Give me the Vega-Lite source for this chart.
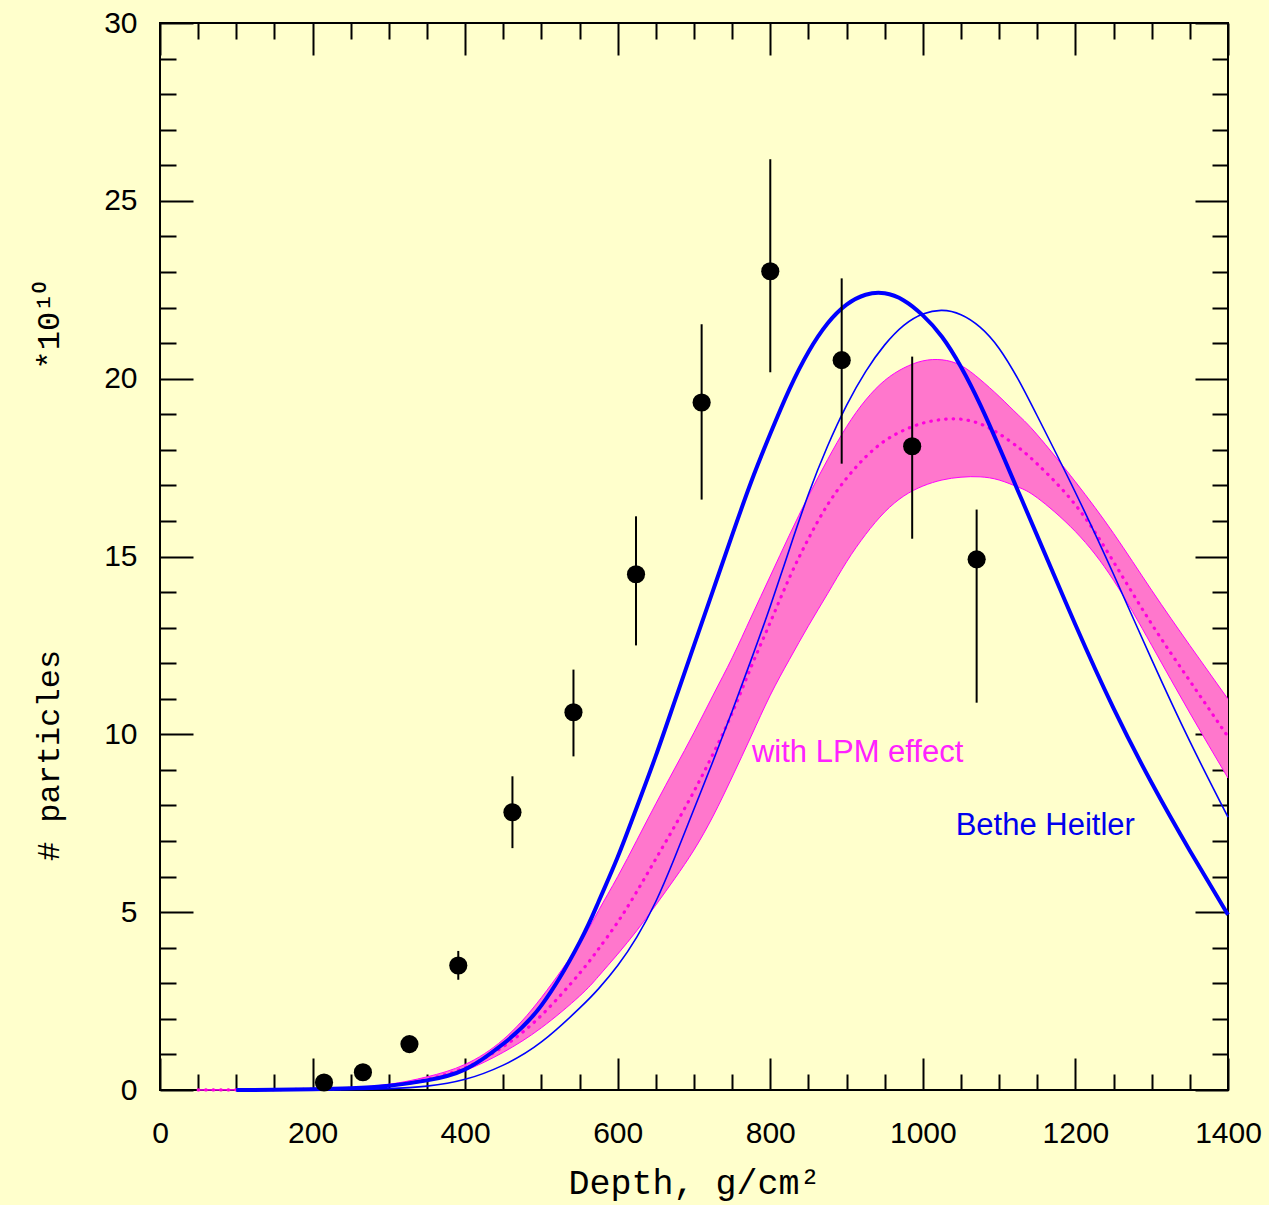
{
  "$schema": "https://vega.github.io/schema/vega-lite/v6.json",
  "width": 1068,
  "height": 1067,
  "autosize": {"type": "none"},
  "padding": {"left": 160, "top": 23, "right": 41, "bottom": 115},
  "background": "#FFFFCC",
  "config": {
    "view": {"stroke": "black", "strokeWidth": 2, "fill": "#FFFFCC"},
    "axis": {
      "grid": false,
      "domain": false,
      "tickColor": "black",
      "tickWidth": 2,
      "labelFont": "Liberation Sans",
      "labelFontSize": 30,
      "labelColor": "black",
      "labelOverlap": false,
      "labelBound": false,
      "labelFlush": false,
      "format": "d",
      "titleFont": "Liberation Mono",
      "titleFontSize": 32,
      "titleFontWeight": "normal",
      "titleColor": "black"
    }
  },
  "datasets": {
    "curves": [
      {"d": 50, "bh": null, "bh2": null, "lo": 0.001, "mid": 0.001, "hi": 0.002},
      {"d": 100, "bh": 0.0, "bh2": 0.0, "lo": 0.003, "mid": 0.004, "hi": 0.005},
      {"d": 150, "bh": 0.005, "bh2": 0.001, "lo": 0.008, "mid": 0.01, "hi": 0.015},
      {"d": 200, "bh": 0.02, "bh2": 0.005, "lo": 0.02, "mid": 0.025, "hi": 0.03},
      {"d": 250, "bh": 0.05, "bh2": 0.015, "lo": 0.04, "mid": 0.05, "hi": 0.07},
      {"d": 300, "bh": 0.12, "bh2": 0.04, "lo": 0.1, "mid": 0.12, "hi": 0.16},
      {"d": 350, "bh": 0.27, "bh2": 0.11, "lo": 0.25, "mid": 0.3, "hi": 0.37},
      {"d": 400, "bh": 0.58, "bh2": 0.3, "lo": 0.55, "mid": 0.63, "hi": 0.72},
      {"d": 450, "bh": 1.3, "bh2": 0.7, "lo": 1.06, "mid": 1.22, "hi": 1.42},
      {"d": 500, "bh": 2.38, "bh2": 1.35, "lo": 1.75, "mid": 2.1, "hi": 2.6},
      {"d": 550, "bh": 4.15, "bh2": 2.3, "lo": 2.64, "mid": 3.28, "hi": 4.12},
      {"d": 575, "bh": 5.3, "bh2": 2.85, "lo": 3.2, "mid": 3.97, "hi": 5.05},
      {"d": 600, "bh": 6.55, "bh2": 3.5, "lo": 3.82, "mid": 4.72, "hi": 6.0},
      {"d": 625, "bh": 7.95, "bh2": 4.3, "lo": 4.48, "mid": 5.58, "hi": 7.02},
      {"d": 650, "bh": 9.4, "bh2": 5.3, "lo": 5.2, "mid": 6.5, "hi": 8.05},
      {"d": 675, "bh": 10.95, "bh2": 6.55, "lo": 5.95, "mid": 7.43, "hi": 9.05},
      {"d": 700, "bh": 12.5, "bh2": 7.9, "lo": 6.75, "mid": 8.4, "hi": 10.05},
      {"d": 725, "bh": 14.05, "bh2": 9.25, "lo": 7.7, "mid": 9.45, "hi": 11.1},
      {"d": 750, "bh": 15.6, "bh2": 10.65, "lo": 8.8, "mid": 10.6, "hi": 12.15},
      {"d": 775, "bh": 17.1, "bh2": 12.1, "lo": 9.95, "mid": 11.9, "hi": 13.3},
      {"d": 800, "bh": 18.45, "bh2": 13.6, "lo": 11.1, "mid": 13.15, "hi": 14.45},
      {"d": 825, "bh": 19.7, "bh2": 15.2, "lo": 12.1, "mid": 14.4, "hi": 15.6},
      {"d": 850, "bh": 20.75, "bh2": 16.75, "lo": 13.05, "mid": 15.5, "hi": 16.7},
      {"d": 875, "bh": 21.55, "bh2": 18.1, "lo": 13.95, "mid": 16.45, "hi": 17.72},
      {"d": 900, "bh": 22.08, "bh2": 19.25, "lo": 14.85, "mid": 17.2, "hi": 18.65},
      {"d": 925, "bh": 22.36, "bh2": 20.2, "lo": 15.62, "mid": 17.8, "hi": 19.4},
      {"d": 950, "bh": 22.4, "bh2": 20.95, "lo": 16.25, "mid": 18.25, "hi": 19.95},
      {"d": 975, "bh": 22.2, "bh2": 21.5, "lo": 16.7, "mid": 18.55, "hi": 20.3},
      {"d": 1000, "bh": 21.78, "bh2": 21.82, "lo": 16.98, "mid": 18.75, "hi": 20.5},
      {"d": 1025, "bh": 21.18, "bh2": 21.92, "lo": 17.15, "mid": 18.85, "hi": 20.53},
      {"d": 1050, "bh": 20.33, "bh2": 21.8, "lo": 17.23, "mid": 18.86, "hi": 20.37},
      {"d": 1075, "bh": 19.28, "bh2": 21.45, "lo": 17.24, "mid": 18.73, "hi": 19.98},
      {"d": 1100, "bh": 18.08, "bh2": 20.85, "lo": 17.15, "mid": 18.45, "hi": 19.5},
      {"d": 1125, "bh": 16.83, "bh2": 19.98, "lo": 16.95, "mid": 18.07, "hi": 18.98},
      {"d": 1150, "bh": 15.58, "bh2": 18.95, "lo": 16.65, "mid": 17.6, "hi": 18.42},
      {"d": 1200, "bh": 13.08, "bh2": 16.8, "lo": 15.7, "mid": 16.45, "hi": 17.1},
      {"d": 1250, "bh": 10.73, "bh2": 14.5, "lo": 14.33, "mid": 14.85, "hi": 15.65},
      {"d": 1300, "bh": 8.63, "bh2": 12.1, "lo": 12.5, "mid": 13.1, "hi": 14.05},
      {"d": 1350, "bh": 6.73, "bh2": 9.8, "lo": 10.6, "mid": 11.5, "hi": 12.5},
      {"d": 1400, "bh": 4.93, "bh2": 7.67, "lo": 8.77, "mid": 9.93, "hi": 10.99}
    ],
    "obs": [
      {"d": 215, "n": 0.21, "lo": null, "hi": null},
      {"d": 266, "n": 0.5, "lo": null, "hi": null},
      {"d": 327, "n": 1.29, "lo": null, "hi": null},
      {"d": 391, "n": 3.5, "lo": 3.1, "hi": 3.91},
      {"d": 462, "n": 7.81, "lo": 6.8, "hi": 8.82},
      {"d": 542, "n": 10.62, "lo": 9.38, "hi": 11.82},
      {"d": 624, "n": 14.5, "lo": 12.5, "hi": 16.13},
      {"d": 710, "n": 19.33, "lo": 16.6, "hi": 21.53},
      {"d": 800, "n": 23.02, "lo": 20.18, "hi": 26.17},
      {"d": 893.6, "n": 20.52, "lo": 17.61, "hi": 22.82},
      {"d": 986, "n": 18.1, "lo": 15.5, "hi": 20.62},
      {"d": 1070.5, "n": 14.92, "lo": 10.89, "hi": 16.32}
    ],
    "labels": [
      {"d": 776, "n": 9.21, "curve": "with LPM effect"},
      {"d": 1043, "n": 7.18, "curve": "Bethe Heitler"}
    ]
  },
  "resolve": {"axis": {"x": "independent", "y": "independent"}},
  "layer": [
    {
      "data": {"name": "curves"},
      "mark": {"type": "area", "fill": "#FF77CC", "opacity": 1, "interpolate": "natural"},
      "encoding": {
        "x": {
          "field": "d", "type": "quantitative",
          "scale": {"domain": [0, 1400], "nice": false, "zero": false},
          "axis": {
            "orient": "bottom", "values": [0, 200, 400, 600, 800, 1000, 1200, 1400],
            "ticks": false, "labelPadding": 28,
            "title": "Depth, g/cm²", "titleFontSize": 35, "titleY": 103, "titleBaseline": "alphabetic"
          }
        },
        "y": {
          "field": "lo", "type": "quantitative",
          "scale": {"domain": [0, 30], "nice": false, "zero": false},
          "axis": {
            "orient": "left", "values": [0, 5, 10, 15, 20, 25, 30],
            "ticks": false, "labelPadding": 23,
            "title": "# particles", "titleAngle": 270, "titleX": -102, "titleY": 732,
            "titleBaseline": "alphabetic", "titleAlign": "center"
          }
        },
        "y2": {"field": "hi"}
      }
    },
    {
      "data": {"name": "curves"},
      "mark": {"type": "line", "stroke": "#FF00FF", "strokeWidth": 1, "interpolate": "natural"},
      "encoding": {
        "x": {
          "field": "d", "type": "quantitative",
          "scale": {"domain": [0, 1400], "nice": false, "zero": false},
          "axis": {"orient": "bottom", "values": [0, 200, 400, 600, 800, 1000, 1200, 1400], "labels": false, "tickSize": -32, "title": null}
        },
        "y": {
          "field": "hi", "type": "quantitative",
          "scale": {"domain": [0, 30], "nice": false, "zero": false},
          "axis": {"orient": "left", "values": [0, 5, 10, 15, 20, 25, 30], "labels": false, "tickSize": -33, "title": null}
        }
      }
    },
    {
      "data": {"name": "curves"},
      "mark": {"type": "line", "stroke": "#FF00FF", "strokeWidth": 1, "interpolate": "natural"},
      "encoding": {
        "x": {
          "field": "d", "type": "quantitative",
          "scale": {"domain": [0, 1400], "nice": false, "zero": false},
          "axis": {"orient": "bottom", "values": [50, 100, 150, 250, 300, 350, 450, 500, 550, 650, 700, 750, 850, 900, 950, 1050, 1100, 1150, 1250, 1300, 1350], "labels": false, "tickSize": -16, "title": null}
        },
        "y": {
          "field": "lo", "type": "quantitative",
          "scale": {"domain": [0, 30], "nice": false, "zero": false},
          "axis": {"orient": "left", "values": [1, 2, 3, 4, 6, 7, 8, 9, 11, 12, 13, 14, 16, 17, 18, 19, 21, 22, 23, 24, 26, 27, 28, 29], "labels": false, "tickSize": -16, "title": null}
        }
      }
    },
    {
      "data": {"name": "curves"},
      "mark": {"type": "line", "stroke": "#FF00DD", "strokeWidth": 3.2, "strokeDash": [0.5, 7], "strokeCap": "round", "interpolate": "natural"},
      "encoding": {
        "x": {
          "field": "d", "type": "quantitative",
          "scale": {"domain": [0, 1400], "nice": false, "zero": false},
          "axis": {"orient": "top", "values": [0, 200, 400, 600, 800, 1000, 1200, 1400], "labels": false, "tickSize": -32, "title": null}
        },
        "y": {
          "field": "mid", "type": "quantitative",
          "scale": {"domain": [0, 30], "nice": false, "zero": false},
          "axis": {
            "orient": "right", "values": [0, 5, 10, 15, 20, 25, 30], "labels": false, "tickSize": -33,
            "title": "*10¹⁰", "titleAngle": 270, "titleX": -1170, "titleY": 302,
            "titleBaseline": "alphabetic", "titleAlign": "center"
          }
        }
      }
    },
    {
      "data": {"name": "curves"},
      "mark": {"type": "line", "stroke": "#0000FF", "strokeWidth": 1.6, "interpolate": "natural"},
      "encoding": {
        "x": {
          "field": "d", "type": "quantitative",
          "scale": {"domain": [0, 1400], "nice": false, "zero": false},
          "axis": {"orient": "top", "values": [50, 100, 150, 250, 300, 350, 450, 500, 550, 650, 700, 750, 850, 900, 950, 1050, 1100, 1150, 1250, 1300, 1350], "labels": false, "tickSize": -16, "title": null}
        },
        "y": {
          "field": "bh2", "type": "quantitative",
          "scale": {"domain": [0, 30], "nice": false, "zero": false},
          "axis": {"orient": "right", "values": [1, 2, 3, 4, 6, 7, 8, 9, 11, 12, 13, 14, 16, 17, 18, 19, 21, 22, 23, 24, 26, 27, 28, 29], "labels": false, "tickSize": -16, "title": null}
        }
      }
    },
    {
      "data": {"name": "curves"},
      "mark": {"type": "line", "stroke": "#0000FF", "strokeWidth": 4, "interpolate": "natural"},
      "encoding": {
        "x": {"field": "d", "type": "quantitative", "scale": {"domain": [0, 1400], "nice": false, "zero": false}, "axis": null},
        "y": {"field": "bh", "type": "quantitative", "scale": {"domain": [0, 30], "nice": false, "zero": false}, "axis": null}
      }
    },
    {
      "data": {"name": "obs"},
      "transform": [{"filter": "datum.lo != null"}],
      "mark": {"type": "rule", "stroke": "black", "strokeWidth": 2},
      "encoding": {
        "x": {"field": "d", "type": "quantitative", "scale": {"domain": [0, 1400], "nice": false, "zero": false}, "axis": null},
        "y": {"field": "lo", "type": "quantitative", "scale": {"domain": [0, 30], "nice": false, "zero": false}, "axis": null},
        "y2": {"field": "hi"}
      }
    },
    {
      "data": {"name": "obs"},
      "mark": {"type": "circle", "size": 330, "fill": "black", "opacity": 1},
      "encoding": {
        "x": {"field": "d", "type": "quantitative", "scale": {"domain": [0, 1400], "nice": false, "zero": false}, "axis": null},
        "y": {"field": "n", "type": "quantitative", "scale": {"domain": [0, 30], "nice": false, "zero": false}, "axis": null}
      }
    },
    {
      "data": {"name": "labels"},
      "mark": {"type": "text", "align": "left", "baseline": "alphabetic", "font": "Liberation Sans", "fontSize": 31},
      "encoding": {
        "x": {"field": "d", "type": "quantitative", "scale": {"domain": [0, 1400], "nice": false, "zero": false}, "axis": null},
        "y": {"field": "n", "type": "quantitative", "scale": {"domain": [0, 30], "nice": false, "zero": false}, "axis": null},
        "text": {"field": "curve"},
        "color": {
          "field": "curve", "type": "nominal",
          "scale": {"domain": ["with LPM effect", "Bethe Heitler"], "range": ["#FF22FF", "#0000EE"]},
          "legend": null
        }
      }
    }
  ]
}
